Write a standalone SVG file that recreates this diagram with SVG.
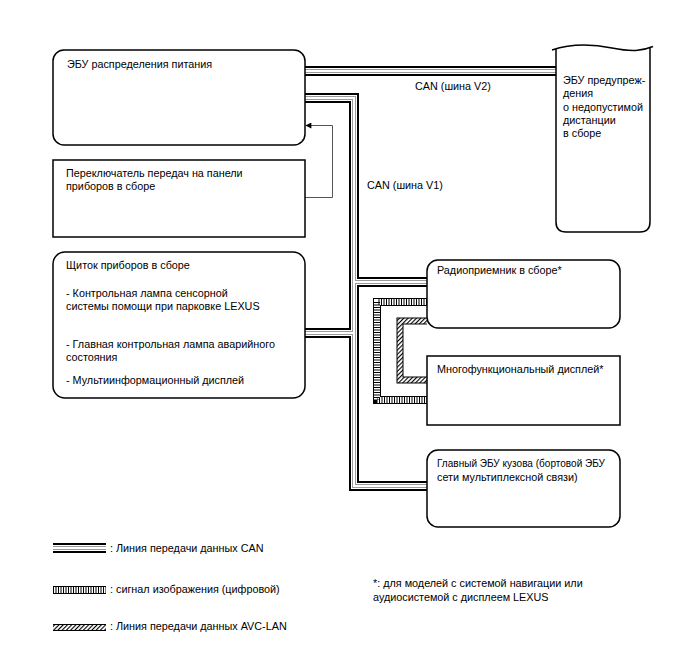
<svg xmlns="http://www.w3.org/2000/svg" xmlns:xlink="http://www.w3.org/1999/xlink" width="688" height="658" viewBox="0 0 688 658">
<style>
text{font-family:"Liberation Sans",Arial,sans-serif;font-size:10.8px;fill:#000}
.box{fill:#fff;stroke:#000;stroke-width:1.5}
.c1{fill:none;stroke:#000;stroke-width:10}
.c2{fill:none;stroke:#fff;stroke-width:6}
.c3{fill:none;stroke:#999;stroke-width:4}
.c4{fill:none;stroke:#fff;stroke-width:2}
.v1{fill:none;stroke:#000;stroke-width:8}
.v2{fill:none;stroke:#fff;stroke-width:6}
.v3{fill:none;stroke:#000;stroke-width:6;stroke-dasharray:1 1.5}
.a1{fill:none;stroke:#000;stroke-width:7}
.a2{fill:none;stroke:url(#hatch);stroke-width:5}
.arr{fill:none;stroke:#555;stroke-width:1}
</style>
<defs>
<pattern id="hatch" patternUnits="userSpaceOnUse" width="3" height="3" patternTransform="rotate(45)">
<rect width="3" height="3" fill="#fff"/>
<rect width="1.1" height="3" fill="#000"/>
</pattern>
<marker id="ah" viewBox="0 0 10 10" refX="9" refY="5" markerWidth="10" markerHeight="6" markerUnits="userSpaceOnUse" orient="auto">
<path d="M0 0L10 5L0 10Z" fill="#000"/>
</marker>
<path id="canbus" d="M305 71H556M305 98H354V486H428M354 282H428M305 333H354M53 548H106"/>
<path id="vidbus" d="M427 302H377V400H427M53 590H106"/>
<path id="avcbus" d="M427 321H400V380H427M53 627.5H106"/>
</defs>
<g id="connectors">
<use xlink:href="#canbus" class="c1"/>
<use xlink:href="#canbus" class="c2"/>
<use xlink:href="#canbus" class="c3"/>
<use xlink:href="#canbus" class="c4"/>
<use xlink:href="#vidbus" class="v1"/>
<use xlink:href="#vidbus" class="v2"/>
<use xlink:href="#vidbus" class="v3"/>
<use xlink:href="#avcbus" class="a1"/>
<use xlink:href="#avcbus" class="a2"/>
<path class="arr" d="M305 197.5H332.5V125.5H306" marker-end="url(#ah)"/>
<text x="415" y="90">CAN (шина V2)</text>
<text x="367" y="189">CAN (шина V1)</text>
</g>
<g id="ecu-power">
<rect class="box" x="53" y="50" width="252" height="95" rx="11"/>
<text x="67" y="68">ЭБУ распределения питания</text>
</g>
<g id="gear-switch">
<rect class="box" x="53" y="160" width="252" height="77"/>
<text x="66" y="177">Переключатель передач на панели</text>
<text x="66" y="190">приборов в сборе</text>
</g>
<g id="cluster">
<rect class="box" x="53" y="252" width="252" height="146" rx="12"/>
<text x="66" y="269">Щиток приборов в сборе</text>
<text x="66" y="297">- Контрольная лампа сенсорной</text>
<text x="66" y="310">системы помощи при парковке LEXUS</text>
<text x="66" y="348">- Главная контрольная лампа аварийного</text>
<text x="66" y="361">состояния</text>
<text x="66" y="384">- Мультиинформационный дисплей</text>
</g>
<g id="warning-ecu">
<path class="box" d="M556 49V222Q556 232 566 232H640Q650 232 650 222V48"/>
<path d="M552 50C570 44 592 44 612 48S642 51 653 46.5" fill="none" stroke="#000" stroke-width="1.5"/>
<text x="563" y="84">ЭБУ предупреж-</text>
<text x="563" y="97">дения</text>
<text x="563" y="111">о недопустимой</text>
<text x="563" y="124">дистанции</text>
<text x="563" y="137">в сборе</text>
</g>
<g id="radio">
<rect class="box" x="427" y="260" width="193" height="68" rx="11"/>
<text x="437" y="274">Радиоприемник в сборе*</text>
</g>
<g id="multi-display">
<rect class="box" x="427" y="356" width="193" height="69"/>
<text x="437" y="373">Многофункциональный дисплей*</text>
</g>
<g id="body-ecu">
<rect class="box" x="427" y="450" width="193" height="77" rx="11"/>
<text x="437" y="467" textLength="168" lengthAdjust="spacingAndGlyphs">Главный ЭБУ кузова (бортовой ЭБУ</text>
<text x="437" y="481">сети мультиплексной связи)</text>
</g>
<g id="legend">
<text x="110" y="552">: Линия передачи данных CAN</text>
<text x="110" y="593">: сигнал изображения (цифровой)</text>
<text x="110" y="630">: Линия передачи данных AVC-LAN</text>
<text x="373" y="587">*: для моделей с системой навигации или</text>
<text x="373" y="601">аудиосистемой с дисплеем LEXUS</text>
</g>
</svg>
